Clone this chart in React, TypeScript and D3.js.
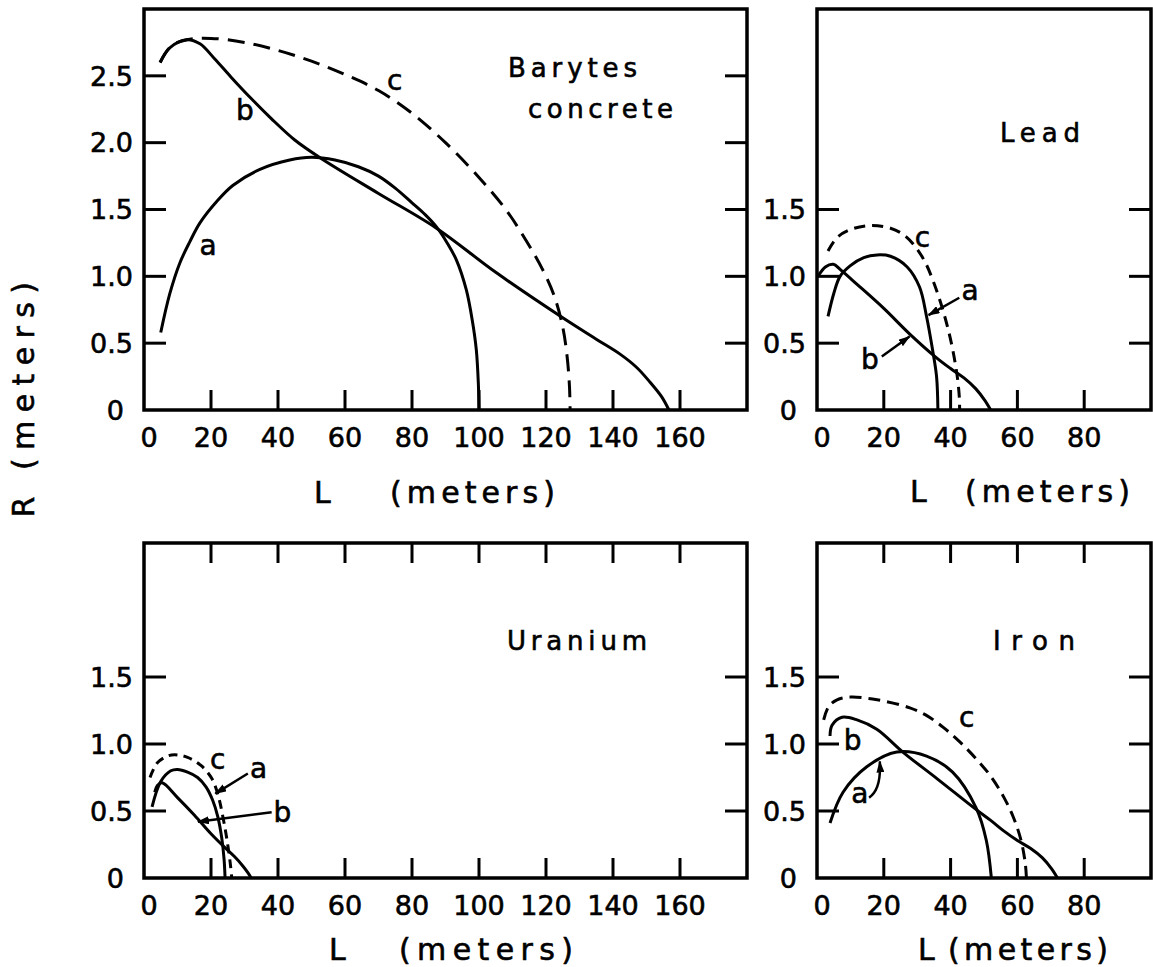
import React from 'react';
import * as d3 from 'd3';

type Pt = [number, number];

// ---------- tick values ----------
const xTicksLong = [0, 20, 40, 60, 80, 100, 120, 140, 160];
const xTicksShort = [0, 20, 40, 60, 80];
const yTicksTall = [0, 0.5, 1.0, 1.5, 2.0, 2.5];
const yTicksShort = [0, 0.5, 1.0, 1.5];
const yTickText = (v: number) => (v === 0 ? '0' : v.toFixed(1));

// ---------- Barytes concrete (L m, R m) ----------
const barytesA: Pt[] = [[5, 0.58], [7.7, 0.87], [10.7, 1.1], [13.7, 1.26], [16.7, 1.4], [21.7, 1.56], [26.5, 1.68], [34.6, 1.8], [43.5, 1.87], [50, 1.89], [57, 1.87], [64, 1.82], [70, 1.75], [75, 1.66], [80, 1.55], [84, 1.46], [87.3, 1.37], [90.5, 1.25], [93.3, 1.12], [96.2, 0.9], [98, 0.67], [99.2, 0.45], [99.8, 0.2], [100, 0]];
const barytesB: Pt[] = [[4.8, 2.6], [7.7, 2.71], [12.8, 2.77], [16.7, 2.74], [21, 2.63], [26, 2.49], [32, 2.33], [38, 2.18], [45, 2.02], [53, 1.88], [70, 1.62], [87.3, 1.36], [105, 1.03], [125, 0.69], [135, 0.53], [142, 0.42], [147, 0.32], [151, 0.21], [154.5, 0.1], [156.7, 0]];
const barytesC: Pt[] = [[4.8, 2.6], [8, 2.72], [12.8, 2.77], [20, 2.78], [30, 2.75], [40, 2.69], [50, 2.61], [60, 2.51], [70, 2.39], [80, 2.22], [90, 2.0], [100, 1.74], [108, 1.5], [114, 1.27], [119, 1.05], [122.5, 0.85], [125, 0.62], [126.3, 0.4], [127, 0.18], [127.2, 0]];

// ---------- Lead ----------
const leadA: Pt[] = [[3.3, 0.7], [5, 0.87], [6.9, 1.0], [10, 1.08], [14, 1.14], [18, 1.16], [22, 1.15], [27, 1.07], [30.7, 0.92], [32.8, 0.7], [34.6, 0.45], [35.8, 0.25], [36.2, 0]];
const leadB: Pt[] = [[0.3, 1.0], [2.5, 1.07], [4.9, 1.09], [7, 1.05], [12, 0.94], [20, 0.76], [27.7, 0.57], [35.8, 0.39], [40, 0.31], [44, 0.24], [47.5, 0.16], [50.3, 0.07], [52, 0]];
const leadC: Pt[] = [[3.3, 1.19], [6, 1.29], [10, 1.35], [16, 1.38], [22, 1.36], [26, 1.31], [29.5, 1.22], [32.5, 1.1], [35, 0.95], [37.3, 0.78], [39.3, 0.6], [40.8, 0.43], [42, 0.25], [42.6, 0.1], [42.7, 0]];

// ---------- Uranium ----------
const uraniumA: Pt[] = [[2.4, 0.53], [5, 0.72], [8, 0.8], [10, 0.81], [13, 0.79], [16, 0.75], [18.5, 0.68], [20.5, 0.58], [22, 0.46], [23.2, 0.3], [23.9, 0.14], [24.2, 0]];
const uraniumB: Pt[] = [[3.2, 0.64], [4, 0.69], [5.4, 0.71], [10, 0.6], [15, 0.47], [20, 0.33], [24, 0.23], [27, 0.16], [29.5, 0.09], [31, 0.04], [32, 0]];
const uraniumC: Pt[] = [[1.8, 0.75], [4, 0.86], [7, 0.91], [9.2, 0.92], [13, 0.9], [17, 0.84], [20.3, 0.74], [22.2, 0.61], [23.6, 0.45], [24.8, 0.28], [25.7, 0.12], [26.2, 0]];

// ---------- Iron ----------
const ironA: Pt[] = [[3.9, 0.41], [7.8, 0.64], [14.9, 0.83], [23.9, 0.94], [32.8, 0.91], [40.6, 0.79], [47.7, 0.52], [50.7, 0.28], [52.2, 0]];
const ironB: Pt[] = [[3.9, 1.06], [4.5, 1.14], [7.5, 1.2], [12, 1.18], [17.9, 1.11], [25.7, 0.94], [36, 0.74], [47.7, 0.51], [52, 0.43], [56, 0.35], [60, 0.28], [64, 0.22], [67.5, 0.15], [70.2, 0.07], [72, 0]];
const ironC: Pt[] = [[2, 1.18], [3.5, 1.28], [6, 1.33], [9.9, 1.35], [18, 1.33], [27.8, 1.27], [33, 1.21], [38, 1.12], [43, 1.01], [48, 0.88], [52, 0.76], [56, 0.6], [59, 0.44], [61.2, 0.27], [62.4, 0.1], [62.7, 0]];

const FONT = "'DejaVu Sans', sans-serif";

interface Panel {
  key: string;
  left: number; right: number; top: number; bottom: number;
  xMax: number; yMax: number;
  xTicks: number[]; yTicks: number[];
  topTicks: boolean;
  curves: { pts: Pt[]; dash?: string }[];
  labels: { t: string; at: Pt }[];
  arrows: { from: Pt; to: Pt; ctrl?: Pt }[];
  titles: { t: string; x: number; y: number; w: number }[];
  xLabel: { lx: number; px: number; pw: number; y: number };
}

const panels: Panel[] = [
  {
    key: 'barytes', left: 144, right: 747, top: 9, bottom: 410, xMax: 180, yMax: 3,
    xTicks: xTicksLong, yTicks: yTicksTall, topTicks: false,
    curves: [{ pts: barytesA }, { pts: barytesB }, { pts: barytesC, dash: '17 9' }],
    labels: [{ t: 'a', at: [19.1, 1.23] }, { t: 'b', at: [30.1, 2.24] }, { t: 'c', at: [74.8, 2.47] }],
    arrows: [],
    titles: [{ t: 'Barytes', x: 508, y: 77, w: 129 }, { t: 'concrete', x: 528, y: 118, w: 145 }],
    xLabel: { lx: 314, px: 390, pw: 165, y: 503 },
  },
  {
    key: 'lead', left: 817, right: 1151, top: 9, bottom: 410, xMax: 100, yMax: 3,
    xTicks: xTicksShort, yTicks: yTicksShort, topTicks: false,
    curves: [{ pts: leadA }, { pts: leadB }, { pts: leadC, dash: '11 7' }],
    labels: [{ t: 'c', at: [31.6, 1.29] }, { t: 'a', at: [45.8, 0.9] }, { t: 'b', at: [15.8, 0.38] }],
    arrows: [{ from: [42.6, 0.84], to: [33.4, 0.71] }, { from: [19.4, 0.4], to: [27.7, 0.55] }],
    titles: [{ t: 'Lead', x: 1000, y: 142, w: 80 }],
    xLabel: { lx: 910, px: 965, pw: 165, y: 502 },
  },
  {
    key: 'uranium', left: 144, right: 747, top: 543, bottom: 878, xMax: 180, yMax: 2.5,
    xTicks: xTicksLong, yTicks: yTicksShort, topTicks: true,
    curves: [{ pts: uraniumA }, { pts: uraniumB }, { pts: uraniumC, dash: '9 6' }],
    labels: [{ t: 'c', at: [22, 0.89] }, { t: 'a', at: [34.2, 0.82] }, { t: 'b', at: [41.3, 0.49] }],
    arrows: [{ from: [31, 0.78], to: [21.3, 0.63] }, { from: [38.1, 0.49], to: [16.1, 0.42] }],
    titles: [{ t: 'Uranium', x: 507, y: 650, w: 140 }],
    xLabel: { lx: 329, px: 399, pw: 174, y: 960 },
  },
  {
    key: 'iron', left: 817, right: 1151, top: 543, bottom: 878, xMax: 100, yMax: 2.5,
    xTicks: xTicksShort, yTicks: yTicksShort, topTicks: true,
    curves: [{ pts: ironA }, { pts: ironB }, { pts: ironC, dash: '12 7' }],
    labels: [{ t: 'c', at: [44.8, 1.2] }, { t: 'b', at: [10.7, 1.03] }, { t: 'a', at: [12.8, 0.63] }],
    arrows: [{ from: [15.6, 0.6], ctrl: [19.3, 0.66], to: [18.8, 0.87] }],
    titles: [{ t: 'Iron', x: 993, y: 650, w: 82 }],
    xLabel: { lx: 918, px: 948, pw: 160, y: 960 },
  },
];

const textStroke = { stroke: '#000', strokeWidth: 0.6 };

function PanelView({ p }: { p: Panel }) {
  const x = d3.scaleLinear().domain([0, p.xMax]).range([p.left, p.right]);
  const y = d3.scaleLinear().domain([0, p.yMax]).range([p.bottom, p.top]);
  const line = d3.line<Pt>().x(d => x(d[0])).y(d => y(d[1])).curve(d3.curveCatmullRom.alpha(0.5));
  const yTL = 22;
  const xTL = 20;
  return (
    <g>
      <rect x={p.left} y={p.top} width={p.right - p.left} height={p.bottom - p.top} fill="none" stroke="#000" strokeWidth={3.5} />
      {p.yTicks.filter(v => v > 0).map(v => (
        <g key={'y' + v}>
          <line x1={p.left} x2={p.left + yTL} y1={y(v)} y2={y(v)} stroke="#000" strokeWidth={3} />
          <line x1={p.right - yTL} x2={p.right} y1={y(v)} y2={y(v)} stroke="#000" strokeWidth={3} />
        </g>
      ))}
      {p.yTicks.map(v => (
        <text key={'yl' + v} x={p.left - (v === 0 ? 20 : 11)} y={y(v)} dy="0.36em" textAnchor="end" fontSize={27} fontFamily={FONT} {...textStroke}>{yTickText(v)}</text>
      ))}
      {p.xTicks.filter(v => v > 0).map(v => (
        <g key={'x' + v}>
          <line x1={x(v)} x2={x(v)} y1={p.bottom} y2={p.bottom - xTL} stroke="#000" strokeWidth={3} />
          {p.topTicks && <line x1={x(v)} x2={x(v)} y1={p.top} y2={p.top + xTL} stroke="#000" strokeWidth={3} />}
        </g>
      ))}
      {p.xTicks.map(v => (
        <text key={'xl' + v} x={x(v) + (v === 0 ? 5 : 0)} y={p.bottom + 37} textAnchor="middle" fontSize={27} fontFamily={FONT} {...textStroke}>{v}</text>
      ))}
      {p.curves.map((c, i) => (
        <path key={'c' + i} d={line(c.pts) || ''} fill="none" stroke="#000" strokeWidth={3} strokeDasharray={c.dash} strokeLinecap="butt" />
      ))}
      {p.labels.map((l, i) => (
        <text key={'l' + i} x={x(l.at[0])} y={y(l.at[1])} dy="0.35em" textAnchor="middle" fontSize={28} fontFamily={FONT} {...textStroke}>{l.t}</text>
      ))}
      {p.arrows.map((a, i) => {
        const d = a.ctrl
          ? `M${x(a.from[0])},${y(a.from[1])} Q${x(a.ctrl[0])},${y(a.ctrl[1])} ${x(a.to[0])},${y(a.to[1])}`
          : `M${x(a.from[0])},${y(a.from[1])} L${x(a.to[0])},${y(a.to[1])}`;
        return <path key={'a' + i} d={d} fill="none" stroke="#000" strokeWidth={2.5} markerEnd="url(#arrowhead)" />;
      })}
      {p.titles.map((t, i) => (
        <text key={'t' + i} x={t.x} y={t.y} fontSize={26} fontFamily={FONT} textLength={t.w} lengthAdjust="spacing" {...textStroke}>{t.t}</text>
      ))}
      <text x={p.xLabel.lx} y={p.xLabel.y} fontSize={30} fontFamily={FONT} {...textStroke}>L</text>
      <text x={p.xLabel.px} y={p.xLabel.y} fontSize={30} fontFamily={FONT} textLength={p.xLabel.pw} lengthAdjust="spacing" {...textStroke}>(meters)</text>
    </g>
  );
}

export default function App() {
  return (
    <svg width={1153} height={967} viewBox="0 0 1153 967" style={{ position: 'absolute', left: 0, top: 0, background: '#fff' }}>
      <defs>
        <marker id="arrowhead" viewBox="0 0 12 8" refX="11" refY="4" markerWidth="12" markerHeight="8" markerUnits="userSpaceOnUse" orient="auto">
          <path d="M0,0 L12,4 L0,8 Z" fill="#000" />
        </marker>
      </defs>
      <rect x={0} y={0} width={1153} height={967} fill="#fff" />
      {panels.map(p => <PanelView key={p.key} p={p} />)}
      <text transform="translate(34,507) rotate(-90)" textAnchor="middle" fontSize={30} fontFamily={FONT} {...textStroke}>R</text>
      <text transform="translate(34,376) rotate(-90)" textAnchor="middle" fontSize={30} fontFamily={FONT} textLength={188} lengthAdjust="spacing" {...textStroke}>(meters)</text>
    </svg>
  );
}
